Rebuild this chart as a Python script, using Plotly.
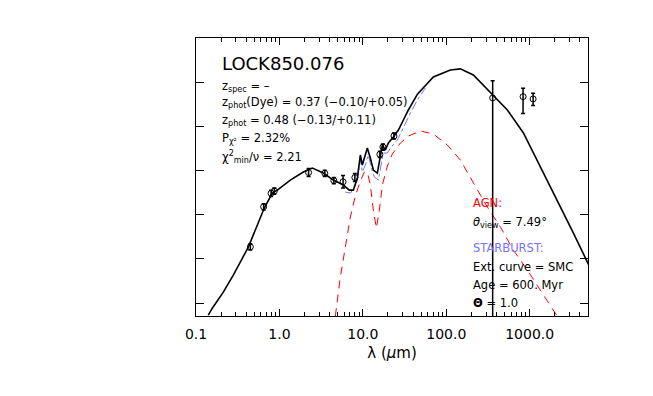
import plotly.graph_objects as go

# total best-fit SED (lambda in micron, log nuLnu with arbitrary offset)
sed_lam = [0.1404, 0.1568, 0.2125, 0.280, 0.4238, 0.659, 0.822, 0.944, 1.351, 1.934,
           2.480, 3.360, 4.430, 5.838, 6.89, 7.69, 8.59, 9.33, 9.86, 10.42,
           11.32, 12.30, 13.36, 14.92, 16.22, 17.14, 18.62, 20.23, 23.23, 26.67,
           30.62, 35.16, 45.1, 70.0, 111.9, 147.5, 211.3, 337.8, 540.0, 841.0,
           1345.0, 2150.0, 3345.0, 5058.0]
sed_y = [-0.272, -0.113, 0.249, 0.634, 1.268, 2.152, 2.492, 2.559, 2.786, 2.967,
         3.058, 2.944, 2.786, 2.673, 2.559, 2.559, 2.831, 3.352, 3.126, 3.284,
         3.511, 3.284, 3.012, 2.944, 3.284, 3.579, 3.465, 3.624, 3.760, 3.918,
         4.145, 4.371, 4.730, 5.119, 5.278, 5.301, 5.164, 4.779, 4.371, 3.851,
         3.080, 2.333, 1.586, 0.880]

# AGN torus component
agn_lam = [4.68, 5.37, 6.17, 7.08, 8.13, 9.33, 10.42, 11.32, 12.30, 13.36,
           14.52, 15.78, 17.14, 19.68, 22.59, 28.2, 35.2, 49.0, 70.0, 103.0,
           147.5, 211.3, 311.0, 446.0, 638.0, 939.0, 1345.0, 1928.0, 2213.0]
agn_y = [-0.294, 0.589, 1.268, 1.948, 2.424, 2.763, 2.967, 2.967, 2.673, 2.106,
         1.699, 2.106, 2.673, 3.103, 3.375, 3.624, 3.782, 3.896, 3.828, 3.579,
         3.239, 2.718, 2.174, 1.721, 1.200, 0.747, 0.294, -0.159, -0.340]

# starburst component
sb_lam = [6.17, 7.08, 7.91, 8.59, 9.33, 9.86, 10.71, 11.64, 12.65, 13.74,
          15.35, 16.67, 17.62, 19.68, 21.38, 25.94, 30.62, 37.2, 45.1, 56.2]
sb_y = [2.514, 2.492, 2.605, 2.786, 3.239, 2.967, 3.126, 3.352, 3.058, 2.854,
        2.786, 3.126, 3.398, 3.398, 3.511, 3.692, 3.986, 4.303, 4.598, 4.870]

# photometry
obs_lam = [0.448, 0.647, 0.793, 0.869, 2.239, 3.50, 4.49, 5.79, 8.02,
           16.0, 17.4, 23.6, 360.0, 833.0, 1099.0]
obs_y = [1.275, 2.181, 2.485, 2.537, 2.956, 2.938, 2.775, 2.747, 2.843,
         3.368, 3.533, 3.783, 4.643, 4.673, 4.621]
obs_ep = [0.07, 0.07, 0.07, 0.07, 0.09, 0.07, 0.07, 0.14, 0.09,
          0.07, 0.07, 0.07, 0.39, 0.19, 0.13]
obs_em = [0.07, 0.07, 0.07, 0.07, 0.09, 0.07, 0.07, 0.14, 0.09,
          0.07, 0.07, 0.07, 6.0, 0.38, 0.15]

tick_vals = [0.1, 1, 10, 100, 1000]
tick_text = ['0.1', '1.0', '10.0', '100.0', '1000.0']
minor_vals = [m * 10 ** e for e in range(-1, 4) for m in range(2, 10) if m * 10 ** e < 5000]

FONT = 'DejaVu Sans'
BLUE = '#7373ff'

fig = go.Figure()
fig.add_trace(go.Scatter(x=agn_lam, y=agn_y, mode='lines',
                         line=dict(color='red', width=1, dash='8px,6px')))
fig.add_trace(go.Scatter(x=sb_lam, y=sb_y, mode='lines',
                         line=dict(color=BLUE, width=1, dash='dashdot')))
fig.add_trace(go.Scatter(x=sed_lam, y=sed_y, mode='lines',
                         line=dict(color='black', width=1.6)))
fig.add_trace(go.Scatter(x=obs_lam, y=obs_y, mode='markers',
                         marker=dict(symbol='circle-open', size=6, color='black',
                                     line=dict(width=1)),
                         error_y=dict(type='data', symmetric=False, array=obs_ep,
                                      arrayminus=obs_em, color='black',
                                      thickness=1.5, width=2)))

# text blocks in paper coordinates
left_txt = [
    ('z<sub>spec</sub> = \u2013', 0.827),
    ('z<sub>phot</sub>(Dye) = 0.37 (\u22120.10/+0.05)', 0.768),
    ('z<sub>phot</sub> = 0.48 (\u22120.13/+0.11)', 0.703),
    ('P<sub>\u03c7\u00b2</sub> = 2.32%', 0.6385),
    ('\u03c7<sup>2</sup><sub>min</sub>/\u03bd = 2.21', 0.572),
]
right_txt = [
    ('AGN:', 0.4065, 'red'),
    ('<i>\u03b8</i><sub>view</sub> = 7.49\u00b0', 0.338, 'black'),
    ('STARBURST:', 0.2446, BLUE),
    ('Ext. curve = SMC', 0.176, 'black'),
    ('Age = 600. Myr', 0.1115, 'black'),
    ('<b>\u0398</b> = 1.0', 0.0468, 'black'),
]

fig.add_annotation(text='LOCK850.076', x=0.0612, y=0.9076, xref='paper', yref='paper',
                   xanchor='left', yanchor='middle', showarrow=False,
                   font=dict(family=FONT, size=18, color='black'))
for t, yy in left_txt:
    fig.add_annotation(text=t, x=0.0612, y=yy, xref='paper', yref='paper',
                       xanchor='left', yanchor='middle', showarrow=False,
                       font=dict(family=FONT, size=11.5, color='black'))
for t, yy, c in right_txt:
    fig.add_annotation(text=t, x=0.7015, y=yy, xref='paper', yref='paper',
                       xanchor='left', yanchor='middle', showarrow=False,
                       font=dict(family=FONT, size=11.5, color=c))

fig.update_xaxes(type='log', range=[-1, 3.699], showgrid=False, zeroline=False,
                 showline=True, linecolor='black', linewidth=1, mirror='ticks',
                 ticks='inside', ticklen=7, tickcolor='black',
                 tickvals=tick_vals, ticktext=tick_text, ticklabelstandoff=5,
                 tickfont=dict(family=FONT, size=14, color='black'),
                 minor=dict(ticks='inside', ticklen=4, tickcolor='black', tickvals=minor_vals),
                 title=dict(text='\u03bb (<i>\u03bc</i>m)', standoff=6,
                            font=dict(family=FONT, size=15, color='black')))
fig.update_yaxes(range=[-0.29, 6.0], showgrid=False, zeroline=False,
                 showline=True, linecolor='black', linewidth=1, mirror='ticks',
                 ticks='inside', ticklen=8, tickcolor='black', dtick=1, tick0=0,
                 showticklabels=False)

fig.update_layout(width=653, height=396, showlegend=False,
                  margin=dict(l=188, r=73, t=30, b=88),
                  plot_bgcolor='white', paper_bgcolor='white')

fig.write_html('out.html')
